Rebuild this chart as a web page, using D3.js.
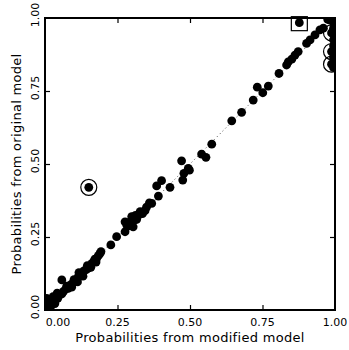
<!DOCTYPE html>
<html>
<head>
<meta charset="utf-8">
<script src="https://cdn.jsdelivr.net/npm/d3@7"></script>
<style>
  body { margin: 0; background: #fff; }
  text { font-family: "DejaVu Sans", sans-serif; fill: #000; }
</style>
</head>
<body>
<div id="chart"></div>
<script>
// probabilities from modified model (x) and original model (y)
var modifiedP = [
  0.000, 0.004, 0.010, 0.002, 0.012, 0.018, 0.006, 0.024, 0.020, 0.030,
  0.036, 0.028, 0.044, 0.050, 0.042, 0.058, 0.064, 0.058, 0.072, 0.075,
  0.080, 0.088, 0.096, 0.100, 0.108, 0.114, 0.121, 0.128, 0.134, 0.142,
  0.149, 0.146, 0.156, 0.162, 0.168, 0.172, 0.178, 0.184, 0.190, 0.193,
  0.227, 0.247, 0.276, 0.282, 0.276, 0.290, 0.293, 0.304, 0.299, 0.306,
  0.316, 0.312, 0.322, 0.328, 0.336, 0.345, 0.350, 0.360, 0.368, 0.391,
  0.385, 0.402, 0.431, 0.475, 0.479, 0.498, 0.471, 0.494, 0.540, 0.555,
  0.575, 0.644, 0.678, 0.718, 0.732, 0.751, 0.770, 0.807, 0.833, 0.839,
  0.851, 0.862, 0.873, 0.902, 0.914, 0.931, 0.948, 0.960, 0.975, 0.983,
  0.995, 0.995, 0.995, 0.995, 0.995, 0.995, 0.995, 0.995, 0.995, 0.995,
  0.151, 0.877, 0.988, 0.988, 0.988,
  0.034, 0.092, 0.112, 0.131, 0.117, 0.158, 0.176, 0.016
];
var originalP = [
  0.000, 0.012, 0.002, 0.025, 0.020, 0.008, 0.040, 0.018, 0.032, 0.028,
  0.036, 0.046, 0.040, 0.052, 0.058, 0.055, 0.064, 0.103, 0.072, 0.082,
  0.074, 0.086, 0.092, 0.104, 0.100, 0.112, 0.120, 0.124, 0.134, 0.138,
  0.143, 0.152, 0.150, 0.160, 0.166, 0.174, 0.177, 0.186, 0.194, 0.200,
  0.223, 0.251, 0.268, 0.291, 0.302, 0.288, 0.302, 0.285, 0.320, 0.308,
  0.310, 0.324, 0.325, 0.337, 0.330, 0.340, 0.352, 0.367, 0.365, 0.390,
  0.425, 0.443, 0.420, 0.445, 0.468, 0.479, 0.511, 0.485, 0.534, 0.523,
  0.568, 0.648, 0.677, 0.719, 0.763, 0.744, 0.767, 0.810, 0.839, 0.850,
  0.859, 0.873, 0.885, 0.913, 0.925, 0.942, 0.959, 0.965, 0.995, 0.993,
  1.000, 0.985, 0.965, 0.945, 0.925, 0.905, 0.885, 0.865, 0.845, 0.830,
  0.420, 0.984, 0.949, 0.885, 0.842,
  0.022, 0.078, 0.096, 0.116, 0.128, 0.146, 0.164, 0.034
];

// highlighted observations
var ringX = [0.151, 0.988, 0.988, 0.988];
var ringY = [0.420, 0.949, 0.885, 0.842];
var boxX = [0.877];
var boxY = [0.984];

var tickValues = [0, 0.25, 0.5, 0.75, 1];
var tickLabels = ["0.00", "0.25", "0.50", "0.75", "1.00"];

var w = 349;
var h = 350;
var padL = 45, padR = 335, padT = 18, padB = 310;

var svg = d3
  .select("#chart")
  .append("svg")
  .attr("width", w)
  .attr("height", h);

var x = d3.scaleLinear().domain([0, 1]).range([padL, padR]);
var y = d3.scaleLinear().domain([0, 1]).range([padB, padT]);

svg.append("clipPath")
  .attr("id", "plotClip")
  .append("rect")
  .attr("x", padL)
  .attr("y", padT)
  .attr("width", padR - padL)
  .attr("height", padB - padT);

// dotted reference line y = x
svg.append("line")
  .attr("x1", x(0)).attr("y1", y(0))
  .attr("x2", x(1)).attr("y2", y(1))
  .style("stroke", "#444")
  .style("stroke-width", 1)
  .style("stroke-dasharray", "1,3");

// points
var pts = d3.range(modifiedP.length).map(function (i) {
  return [modifiedP[i], originalP[i]];
});

svg.append("g")
  .attr("clip-path", "url(#plotClip)")
  .selectAll("circle")
  .data(pts)
  .enter()
  .append("circle")
  .attr("cx", function (d) { return x(d[0]); })
  .attr("cy", function (d) { return y(d[1]); })
  .attr("r", 4.4)
  .style("fill", "#000");

// rings around outliers
svg.append("g")
  .attr("clip-path", "url(#plotClip)")
  .selectAll("circle")
  .data(ringX)
  .enter()
  .append("circle")
  .attr("cx", function (d) { return x(d); })
  .attr("cy", function (d, i) { return y(ringY[i]); })
  .attr("r", 8)
  .style("fill", "none")
  .style("stroke", "#000")
  .style("stroke-width", 1.2);

// box around outlier
svg.selectAll(".box")
  .data(boxX)
  .enter()
  .append("rect")
  .attr("class", "box")
  .attr("x", function (d) { return x(d) - 8; })
  .attr("y", function (d, i) { return y(boxY[i]) - 6; })
  .attr("width", 16)
  .attr("height", 14)
  .style("fill", "none")
  .style("stroke", "#000")
  .style("stroke-width", 1.2);

// axes with inward ticks on all four sides
function axisStyle(g) {
  g.select(".domain").remove();
  g.selectAll(".tick text").remove();
  g.selectAll(".tick line").style("stroke", "#000").style("stroke-width", 1.2);
}
var inner = [0.25, 0.5, 0.75];
svg.append("g").attr("transform", "translate(0," + padB + ")")
  .call(d3.axisBottom(x).tickValues(inner).tickSizeInner(-5)).call(axisStyle);
svg.append("g").attr("transform", "translate(0," + padT + ")")
  .call(d3.axisTop(x).tickValues(inner).tickSizeInner(-5)).call(axisStyle);
svg.append("g").attr("transform", "translate(" + padL + ",0)")
  .call(d3.axisLeft(y).tickValues(inner).tickSizeInner(-5)).call(axisStyle);
svg.append("g").attr("transform", "translate(" + padR + ",0)")
  .call(d3.axisRight(y).tickValues(inner).tickSizeInner(-5)).call(axisStyle);

// frame
svg.append("rect")
  .attr("x", padL)
  .attr("y", padT)
  .attr("width", padR - padL)
  .attr("height", padB - padT)
  .style("fill", "none")
  .style("stroke", "#000")
  .style("stroke-width", 2);

// tick labels
svg.selectAll(".xlab")
  .data(tickValues)
  .enter()
  .append("text")
  .attr("class", "xlab")
  .attr("x", function (d, i) { return x(d) + (i === 0 ? 13 : 0); })
  .attr("y", 326)
  .attr("text-anchor", "middle")
  .style("font-size", "11px")
  .text(function (d, i) { return tickLabels[i]; });

svg.selectAll(".ylab")
  .data(tickValues)
  .enter()
  .append("text")
  .attr("class", "ylab")
  .attr("transform", function (d) {
    return "translate(39," + (y(d) - 3) + ") rotate(-90)";
  })
  .attr("text-anchor", "middle")
  .style("font-size", "11px")
  .text(function (d, i) { return tickLabels[i]; });

// axis titles
svg.append("text")
  .attr("x", (padL + padR) / 2)
  .attr("y", 342)
  .attr("text-anchor", "middle")
  .style("font-size", "13px")
  .style("letter-spacing", "0.3px")
  .text("Probabilities from modified model");

svg.append("text")
  .attr("transform", "translate(21," + (padT + padB) / 2 + ") rotate(-90)")
  .attr("text-anchor", "middle")
  .style("font-size", "13px")
  .style("letter-spacing", "0.3px")
  .text("Probabilities from original model");
</script>
</body>
</html>
